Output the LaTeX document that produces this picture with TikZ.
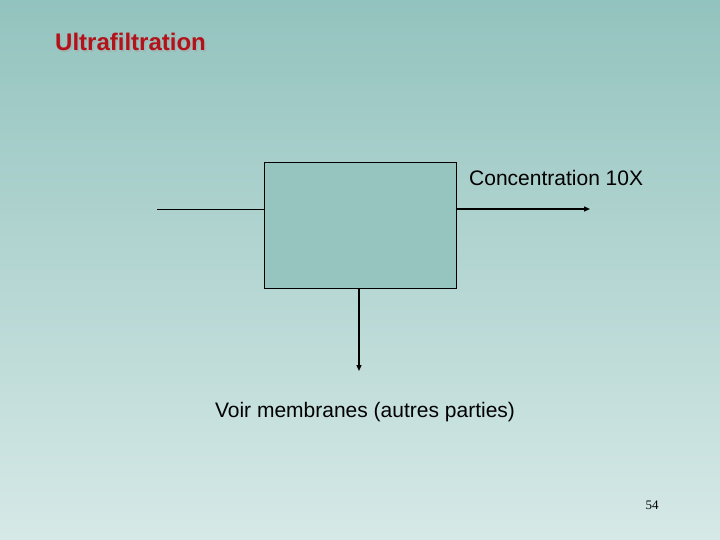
\documentclass[tikz,border=0pt]{standalone}
\usepackage{fontspec}
\setmainfont{Liberation Sans}
\newfontfamily\numfont{Liberation Serif}
\usetikzlibrary{arrows.meta}
\definecolor{fondhaut}{HTML}{93C3BE}
\definecolor{fondbas}{HTML}{D6E9E7}
\definecolor{boite}{HTML}{96C4BE}
\definecolor{titre}{HTML}{B3121A}

\begin{document}
\begin{tikzpicture} [x=1pt, y=-1pt,
	procbox/.style = {draw, thick, fill=boite, minimum width=192pt, minimum height=126pt, inner sep=0pt},
	flux/.style = {line width=1.3pt, -{Triangle[length=6pt, width=5pt]}},
	etiquette/.style = {font=\fontsize{21}{25}\selectfont, inner sep=0pt}]
	\shade[top color=fondhaut, bottom color=fondbas] (0,0) rectangle (720,540);
	\useasboundingbox (0,0) rectangle (720,540);
	% title
	\node[anchor=base west, inner sep=0pt, font=\fontsize{24}{28}\selectfont\bfseries, text=black!35, opacity=0.5] at (56.5,52.5) {Ultrafiltration};
	\node[anchor=base west, inner sep=0pt, font=\fontsize{24}{28}\selectfont\bfseries, text=titre] (titre) at (55,51) {Ultrafiltration};
	% unit
	\node[procbox] (filtre) at (360,225) {};
	\coordinate (entree) at (157,210);
	\coordinate (concentre) at (590,209);
	\coordinate (permeat) at (359,371);
	\draw[line width=1pt] (entree) -- (entree -| filtre.west);
	\draw[flux] (filtre.east |- concentre) -- (concentre);
	\draw[flux] (permeat |- filtre.south) -- (permeat);
	\node[etiquette, anchor=base west] (conc) at (469,186) {Concentration 10X};
	\node[etiquette, anchor=base] (voir) at (365,417) {Voir membranes (autres parties)};
	\node[anchor=base, inner sep=0pt, font=\numfont\fontsize{13}{15}\selectfont] (page) at (652,509) {54};
\end{tikzpicture}
\end{document}
